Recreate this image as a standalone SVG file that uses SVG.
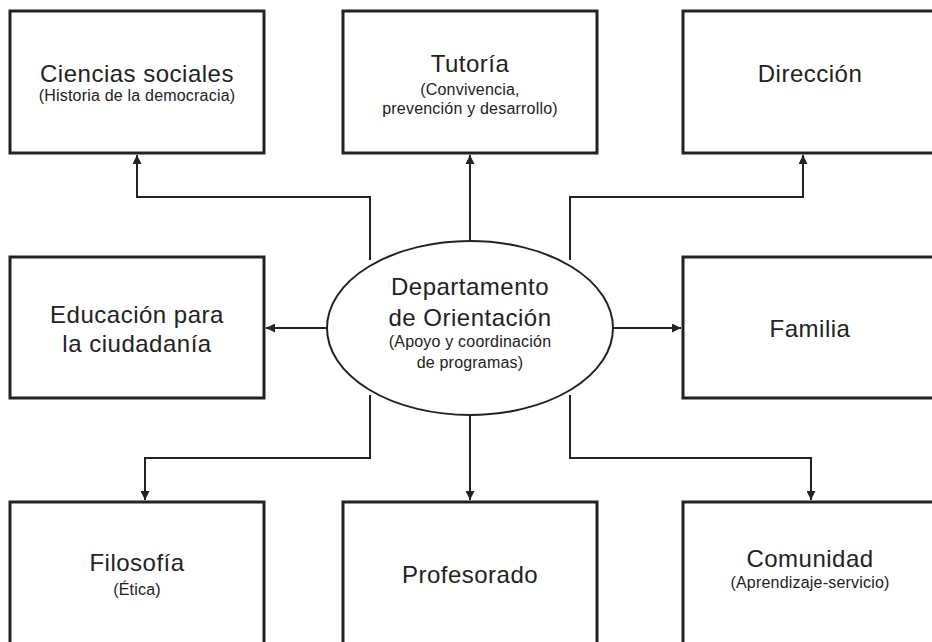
<svg xmlns="http://www.w3.org/2000/svg" width="932" height="642" viewBox="0 0 932 642">
<defs>
<marker id="arr" viewBox="0 0 10 10" refX="10" refY="5" markerWidth="4.5" markerHeight="4.5" orient="auto" markerUnits="strokeWidth">
<path d="M0,0 L10,5 L0,10 z" fill="#222"/>
</marker>
<style>
.box{fill:#fff;stroke:#222;stroke-width:3}
.ell{fill:#fff;stroke:#222;stroke-width:2}
.t{font-family:"Liberation Sans",Arial,sans-serif;font-size:24px;fill:#222;text-anchor:middle;letter-spacing:0.5px}
.s{font-family:"Liberation Sans",Arial,sans-serif;font-size:16px;fill:#222;text-anchor:middle;letter-spacing:0.2px}
.c{fill:none;stroke:#222;stroke-width:2;marker-end:url(#arr)}
</style>
</defs>
<rect width="932" height="642" fill="#fff"/>
<g id="connectors">
<path class="c" d="M370,260 V197 H137 V155"/>
<path class="c" d="M470,241 V155"/>
<path class="c" d="M570,260 V197 H803 V155"/>
<path class="c" d="M327,328 H266"/>
<path class="c" d="M613,328 H681"/>
<path class="c" d="M370,395 V458 H145 V500"/>
<path class="c" d="M470,414 V500"/>
<path class="c" d="M570,395 V458 H811 V500"/>
</g>
<g id="ciencias">
<rect class="box" x="10" y="11" width="254" height="142"/>
<text class="t" x="137" y="82">Ciencias sociales</text>
<text class="s" x="137" y="101">(Historia de la democracia)</text>
</g>
<g id="tutoria">
<rect class="box" x="343" y="11" width="254" height="142"/>
<text class="t" x="470" y="72">Tutoría</text>
<text class="s" x="470" y="95">(Convivencia,</text>
<text class="s" x="470" y="114">prevención y desarrollo)</text>
</g>
<g id="direccion">
<rect class="box" x="683" y="11" width="254" height="142"/>
<text class="t" x="810" y="82">Dirección</text>
</g>
<g id="educacion">
<rect class="box" x="10" y="257" width="254" height="141"/>
<text class="t" x="137" y="323">Educación para</text>
<text class="t" x="137" y="352">la ciudadanía</text>
</g>
<g id="departamento">
<ellipse class="ell" cx="470" cy="328" rx="143" ry="87"/>
<text class="t" x="470" y="295">Departamento</text>
<text class="t" x="470" y="326">de Orientación</text>
<text class="s" x="470" y="347">(Apoyo y coordinación</text>
<text class="s" x="470" y="368">de programas)</text>
</g>
<g id="familia">
<rect class="box" x="683" y="257" width="254" height="141"/>
<text class="t" x="810" y="337">Familia</text>
</g>
<g id="filosofia">
<rect class="box" x="10" y="502" width="254" height="142"/>
<text class="t" x="137" y="571">Filosofía</text>
<text class="s" x="137" y="595">(Ética)</text>
</g>
<g id="profesorado">
<rect class="box" x="343" y="502" width="254" height="142"/>
<text class="t" x="470" y="583">Profesorado</text>
</g>
<g id="comunidad">
<rect class="box" x="683" y="502" width="254" height="142"/>
<text class="t" x="810" y="567">Comunidad</text>
<text class="s" x="810" y="588">(Aprendizaje-servicio)</text>
</g>
</svg>
